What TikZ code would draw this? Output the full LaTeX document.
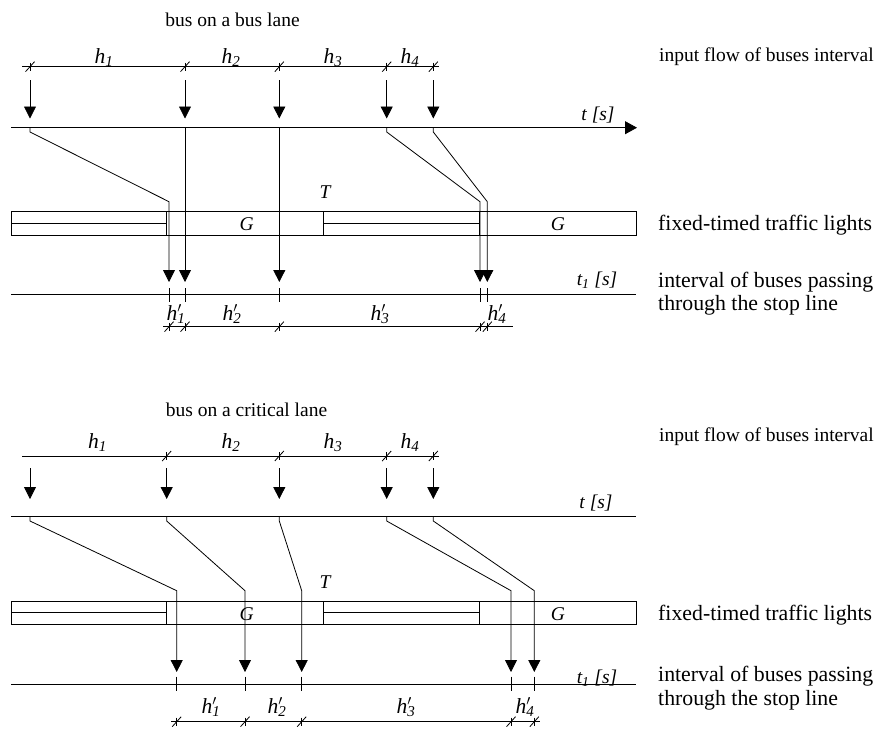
\documentclass[tikz,border=0pt]{standalone}
\usepackage{fontspec}
\setmainfont{Liberation Serif}
\usetikzlibrary{arrows.meta}
\newcommand\hsub[1]{\textit{h}\textsubscript{\itshape #1}}
\newcommand\hpr[1]{\textit{h}\rlap{$^{\prime}$}\textsubscript{\itshape #1}}
\begin{document}
\begin{tikzpicture}[x=1pt,y=-1pt,
  ln/.style={line width=0.8pt},
  bus/.style={line width=0.8pt,-{Triangle[length=12pt,width=12pt]}},
  ttl/.style={font=\fontsize{19.5}{22}\selectfont, inner sep=0pt, anchor=base},
  rlbl/.style={font=\fontsize{21.8}{24}\selectfont, inner sep=0pt, anchor=base west},
  rlbls/.style={font=\fontsize{19.5}{22}\selectfont, inner sep=0pt, anchor=base west},
  mlbl/.style={font=\fontsize{21.5}{24}\selectfont, inner sep=0pt, anchor=base},
  gl/.style={font=\fontsize{19.5}{22}\selectfont\itshape, inner sep=0pt, anchor=base},
  axl/.style={font=\fontsize{19.5}{22}\selectfont\itshape, inner sep=0pt},
]
\useasboundingbox (0,0) rectangle (881,729);

% ===================== TOP: bus on a bus lane =====================
\node[ttl] (title1) at (232.5,26) {bus on a bus lane};
\node[rlbls] (in1) at (659,61.5) {input flow of buses interval};
\node[rlbl] (fx1) at (658,230) {fixed-timed traffic lights};
\node[rlbl] (iv1) at (658,287) {interval of buses passing};
\node[rlbl] (th1) at (658,310) {through the stop line};

% headway dimension line
\coordinate (hA1) at (22,66.7); \coordinate (hB1) at (439,66.7);
\draw[ln] (hA1) -- (hB1);
\foreach \x in {30,185,279.3,386.7,433.3}{
  \draw[ln] (\x-4.5,66.7+5) -- (\x+4.5,66.7-5);
  \draw[ln] (\x,66.7-4) -- (\x,66.7+4);
}
\node[mlbl] (h11) at (104,63) {\hsub{1}};
\node[mlbl] (h21) at (231,63) {\hsub{2}};
\node[mlbl] (h31) at (333,63) {\hsub{3}};
\node[mlbl] (h41) at (410,63) {\hsub{4}};

% arriving buses
\foreach \x [count=\i] in {30,185,279.3,386.7,433.3}{
  \coordinate (a\i) at (\x,80); \coordinate (b\i) at (\x,118.5);
  \draw[bus] (a\i) -- (b\i);
}
% time axis
\coordinate (tA1) at (11,127.7); \coordinate (tB1) at (637,127.7);
\draw[ln,-{Triangle[length=12pt,width=13pt]}] (tA1) -- (tB1);
\node[axl] (t1) at (598,115) {t [s]};

% bus trajectories
\draw[bus] (30,127.7) -- (30,132) -- (169,201.7) -- (169,282);
\draw[bus] (185,127.7) -- (185,282);
\draw[bus] (279.3,127.7) -- (279.3,282);
\draw[bus] (386.7,127.7) -- (386.7,132) -- (480,201.7) -- (480,282);
\draw[bus] (433.3,127.7) -- (433.3,132) -- (487.3,201.7) -- (487.3,282);

% traffic lights bar
\draw[ln] (11,211.7) rectangle (636,235);
\draw[ln] (11,223.3) -- (166.7,223.3);
\draw[ln] (323.3,223.3) -- (479,223.3);
\foreach \x in {166.7,323.3,479}{ \draw[ln] (\x,211.7) -- (\x,235); }
\node[gl] (G11) at (246.7,230) {G};
\node[gl] (G21) at (558,230) {G};
\node[gl] (T1) at (325,198.3) {T};

% stop line axis
\draw[ln] (11,294.3) -- (636,294.3);
\node[axl] (tt1) at (597,280) {t\textsubscript{1} [s]};
\foreach \x in {169,185,279.3,480,487.3}{ \draw[ln] (\x,288) -- (\x,301.7); }

% departure headway dimension line
\draw[ln] (163,326.7) -- (513,326.7);
\foreach \x in {169,185,279.3,480,487.3}{
  \draw[ln] (\x-4.5,326.7+5) -- (\x+4.5,326.7-5);
  \draw[ln] (\x,326.7-4) -- (\x,326.7+4);
}
\node[mlbl] (hp11) at (176,320.5) {\hpr{1}};
\node[mlbl] (hp21) at (232,320.5) {\hpr{2}};
\node[mlbl] (hp31) at (380,320.5) {\hpr{3}};
\node[mlbl] (hp41) at (497,320.5) {\hpr{4}};

% ===================== BOTTOM: bus on a critical lane =====================
\node[ttl] (title2) at (246.5,416.5) {bus on a critical lane};
\node[rlbls] (in2) at (659,441.5) {input flow of buses interval};
\node[rlbl] (fx2) at (658,620) {fixed-timed traffic lights};
\node[rlbl] (iv2) at (658,681.7) {interval of buses passing};
\node[rlbl] (th2) at (658,705) {through the stop line};

\draw[ln] (22,456) -- (439,456);
\foreach \x in {166.7,279.3,386.7,433.3}{
  \draw[ln] (\x-4.5,456+5) -- (\x+4.5,456-5);
  \draw[ln] (\x,456-4) -- (\x,456+4);
}
\node[mlbl] (h12) at (97.5,448.5) {\hsub{1}};
\node[mlbl] (h22) at (231,448.5) {\hsub{2}};
\node[mlbl] (h32) at (333,448.5) {\hsub{3}};
\node[mlbl] (h42) at (410,448.5) {\hsub{4}};

\foreach \x [count=\i] in {30,166.7,279.3,386.7,433.3}{
  \coordinate (c\i) at (\x,468.3); \coordinate (d\i) at (\x,499);
  \draw[bus] (c\i) -- (d\i);
}
\draw[ln] (11,516.7) -- (636,516.7);
\node[axl] (t2) at (596,503.5) {t [s]};

\draw[bus] (30,516.7) -- (30,521) -- (176.7,590.7) -- (176.7,672);
\draw[bus] (166.7,516.7) -- (166.7,521) -- (245,590.7) -- (245,672);
\draw[bus] (279.3,516.7) -- (279.3,521) -- (301.7,590.7) -- (301.7,672);
\draw[bus] (386.7,516.7) -- (386.7,521) -- (511,590.7) -- (511,672);
\draw[bus] (433.3,516.7) -- (433.3,521) -- (534.3,590.7) -- (534.3,672);

\draw[ln] (11,601) rectangle (636,624);
\draw[ln] (11,612.7) -- (166.7,612.7);
\draw[ln] (323.3,612.7) -- (479,612.7);
\foreach \x in {166.7,323.3,479}{ \draw[ln] (\x,601) -- (\x,624); }
\node[gl] (G12) at (246.7,620) {G};
\node[gl] (G22) at (558,620) {G};
\node[gl] (T2) at (325,588.3) {T};

\draw[ln] (11,684) -- (636,684);
\node[axl] (tt2) at (597,678) {t\textsubscript{1} [s]};
\foreach \x in {176.7,245,301.7,511,534.3}{ \draw[ln] (\x,676.7) -- (\x,690.7); }

\draw[ln] (171,721.7) -- (540,721.7);
\foreach \x in {176.7,245,301.7,511,534.3}{
  \draw[ln] (\x-4.5,721.7+5) -- (\x+4.5,721.7-5);
  \draw[ln] (\x,721.7-4) -- (\x,721.7+4);
}
\node[mlbl] (hp12) at (211,713.5) {\hpr{1}};
\node[mlbl] (hp22) at (277,713.5) {\hpr{2}};
\node[mlbl] (hp32) at (406,713.5) {\hpr{3}};
\node[mlbl] (hp42) at (525,713.5) {\hpr{4}};
\end{tikzpicture}
\end{document}
